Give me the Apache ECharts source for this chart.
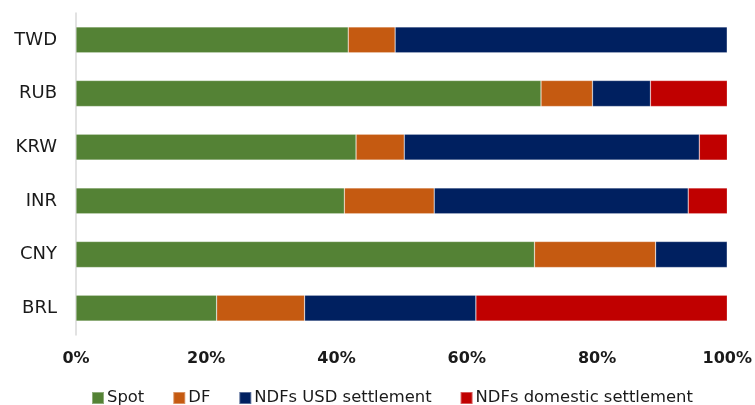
<!DOCTYPE html>
<html>
<head>
<meta charset="utf-8">
<script src="https://cdn.jsdelivr.net/npm/echarts@6/dist/echarts.min.js"></script>
<style>
  html, body { margin: 0; padding: 0; background: #fff; }
  #chart { width: 755px; height: 405px; }
</style>
</head>
<body>
<div id="chart"></div>
<script>
// categories from bottom to top (category axis draws first at the bottom)
var currencies = ['BRL', 'CNY', 'INR', 'KRW', 'RUB', 'TWD'];
var spot = [21.6, 70.4, 41.2, 43.0, 71.4, 41.8];
var df = [13.5, 18.6, 13.8, 7.4, 7.9, 7.2];
var ndfUsd = [26.3, 11.0, 39.0, 45.3, 8.9, 51.0];
var ndfDomestic = [38.6, 0, 6.0, 4.3, 11.8, 0];

var seriesNames = ['Spot', 'DF', 'NDFs USD settlement', 'NDFs domestic settlement'];
var colors = ['#548235', '#C55A11', '#002060', '#C00000'];
var font = 'DejaVu Sans';

var chart = echarts.init(document.getElementById('chart'));

function makeSeries(name, data, color) {
  return {
    name: name,
    type: 'bar',
    stack: 'total',
    barWidth: 26,
    data: data,
    itemStyle: { color: color, borderColor: 'rgba(255,255,255,0.35)', borderWidth: 0.6 },
    emphasis: { disabled: true }
  };
}

chart.setOption({
  animation: false,
  color: colors,
  grid: { left: 76, right: 26, top: 13, bottom: 70 },
  xAxis: {
    type: 'value',
    min: 0,
    max: 100,
    interval: 20,
    axisLine: { show: false },
    axisTick: { show: false },
    splitLine: { show: false },
    axisLabel: {
      formatter: '{value}%',
      fontFamily: font,
      fontWeight: 'bold',
      fontSize: 16,
      color: '#1a1a1a',
      margin: 16
    }
  },
  yAxis: {
    type: 'category',
    data: currencies,
    axisLine: { show: true, lineStyle: { color: '#d9d9d9', width: 1.5 } },
    axisTick: { show: false },
    axisLabel: {
      fontFamily: font,
      fontSize: 18,
      color: '#1a1a1a',
      margin: 19
    }
  },
  legend: {
    left: 86,
    top: 385,
    itemWidth: 12,
    itemHeight: 12,
    itemGap: 28,
    icon: 'rect',
    textStyle: { fontFamily: font, fontSize: 16.4, color: '#1a1a1a', padding: [0, 0, 0, -2] },
    data: seriesNames
  },
  series: [
    makeSeries(seriesNames[0], spot, colors[0]),
    makeSeries(seriesNames[1], df, colors[1]),
    makeSeries(seriesNames[2], ndfUsd, colors[2]),
    makeSeries(seriesNames[3], ndfDomestic, colors[3])
  ]
});
</script>
</body>
</html>
